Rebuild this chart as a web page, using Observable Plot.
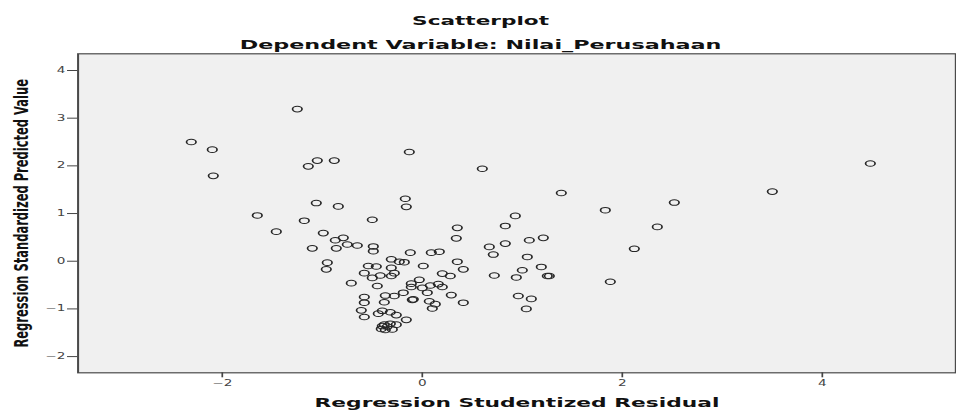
<!DOCTYPE html>
<html>
<head>
<meta charset="utf-8">
<script src="https://cdn.jsdelivr.net/npm/d3@7"></script>
<script src="https://cdn.jsdelivr.net/npm/@observablehq/plot@0.6"></script>
<style>
  html, body { margin: 0; padding: 0; background: #fff; overflow: hidden; }
  #chart svg { display: block; transform-origin: 0 0; }
</style>
</head>
<body>
<div id="chart"></div>
<script>
const title = "Scatterplot";
const subtitle = "Dependent Variable: Nilai_Perusahaan";
const xTitle = "Regression Studentized Residual";
const yTitle = "Regression Standardized Predicted Value";
const xTicks = [-2, 0, 2, 4];
const yTicks = [-2, -1, 0, 1, 2, 3, 4];

// Regression Studentized Residual
const resid = [
  -1.25, -2.31, -2.10, -2.09, -1.05, -0.88, -1.14, -0.13, 0.60, 4.48,
  -1.06, -0.84, -0.17, -0.16, -1.65, -1.18, -0.50, -1.46, -0.99, 0.35, 0.34, -0.79, -0.87,
  1.39, 3.50, 2.52, 1.83, 0.93, 0.83, 2.35, 1.21, 1.07, 0.67, 0.83, 2.12, 0.71, 1.05,
  0.35, 0.41, 1.19, 1.00, 0.28, 0.72, 0.94, 1.25, 1.27, 1.88,
  0.29, 0.41, 0.96, 1.09, 1.04,
  -0.12, 0.09, 0.17, 0.01, 0.20, -0.03, -0.11, -0.11, 0.08, 0.16, 0.20, 0.00, -0.19, 0.05,
  -0.10, -0.09, 0.07, 0.13, 0.10, -0.16,
  -0.75, -0.65, -0.49, -0.49, -1.10, -0.86, -0.95, -0.96, -0.54, -0.46,
  -0.31, -0.23, -0.18, -0.31, -0.58, -0.50, -0.42, -0.31, -0.28, -0.71,
  -0.45, -0.28, -0.37, -0.58, -0.58, -0.38, -0.61, -0.58, -0.44, -0.40,
  -0.32, -0.26, -0.26, -0.38, -0.35, -0.41, -0.30, -0.32, -0.37, -0.40
];
// Regression Standardized Predicted Value
const predicted = [
  3.19, 2.50, 2.34, 1.79, 2.11, 2.11, 1.99, 2.29, 1.94, 2.05,
  1.22, 1.15, 1.31, 1.14, 0.96, 0.85, 0.87, 0.62, 0.59, 0.70, 0.48, 0.49, 0.44,
  1.43, 1.46, 1.23, 1.07, 0.95, 0.74, 0.72, 0.49, 0.44, 0.30, 0.37, 0.26, 0.14, 0.09,
  -0.01, -0.17, -0.12, -0.19, -0.31, -0.30, -0.34, -0.31, -0.31, -0.43,
  -0.71, -0.87, -0.73, -0.79, -1.00,
  0.18, 0.18, 0.20, -0.10, -0.26, -0.39, -0.47, -0.54, -0.51, -0.48, -0.54, -0.56, -0.66, -0.66,
  -0.81, -0.80, -0.84, -0.90, -0.99, -1.23,
  0.35, 0.33, 0.31, 0.21, 0.27, 0.27, -0.03, -0.17, -0.10, -0.11,
  0.04, -0.01, -0.02, -0.14, -0.25, -0.35, -0.30, -0.31, -0.25, -0.46,
  -0.52, -0.73, -0.72, -0.75, -0.87, -0.86, -1.03, -1.17, -1.10, -1.04,
  -1.07, -1.13, -1.33, -1.33, -1.37, -1.42, -1.43, -1.31, -1.44, -1.36
];

const data = resid.map((r, i) => ({resid: r, predicted: predicted[i]}));

const W = 562;
const S = 956 / W;
const fmt = d3.format("d");

const chart = Plot.plot({
  width: W,
  height: 411,
  marginLeft: 45.4,
  marginRight: 0.6,
  marginTop: 53.3,
  marginBottom: 38.7,
  style: {fontFamily: "DejaVu Sans", background: "#fff", overflow: "visible"},
  x: {domain: [-3.442, 5.335]},
  y: {domain: [-2.34, 4.35]},
  marks: [
    Plot.frame({fill: "#f0f0f0"}),
    Plot.dot(data, {x: "resid", y: "predicted", r: 2.8, stroke: "#262626", strokeWidth: 1, fill: "none"}),
    Plot.frame({stroke: "#4a4a4a", strokeWidth: 1.2}),
    Plot.axisX({ticks: xTicks, tickFormat: fmt, tickSize: 5, tickPadding: 2.5, fontSize: 8, stroke: "#444", fill: "#444", label: null}),
    Plot.axisY({ticks: yTicks, tickFormat: fmt, tickSize: 6, tickPadding: 1.5, fontSize: 8, stroke: "#444", fill: "#444", label: null}),
    Plot.text([title], {text: d => d, frameAnchor: "top", dx: -21.4, dy: -29.3, lineAnchor: "bottom", fontWeight: "bold", fontSize: 12.7, fill: "#111"}),
    Plot.text([subtitle], {text: d => d, frameAnchor: "top", dx: -21.4, dy: -5.3, lineAnchor: "bottom", fontWeight: "bold", fontSize: 13.1, fill: "#111"}),
    Plot.text([xTitle], {text: d => d, frameAnchor: "bottom", dy: 34.4, lineAnchor: "bottom", fontWeight: "bold", fontSize: 12.8, fill: "#111"}),
    Plot.text([yTitle], {text: d => d, frameAnchor: "left", textAnchor: "middle", dx: -29.5, rotate: -90, lineAnchor: "bottom", fontWeight: "bold", fontSize: 11.5, fill: "#111"})
  ]
});
chart.style.transform = `scaleX(${S})`;
document.getElementById("chart").appendChild(chart);
</script>
</body>
</html>
